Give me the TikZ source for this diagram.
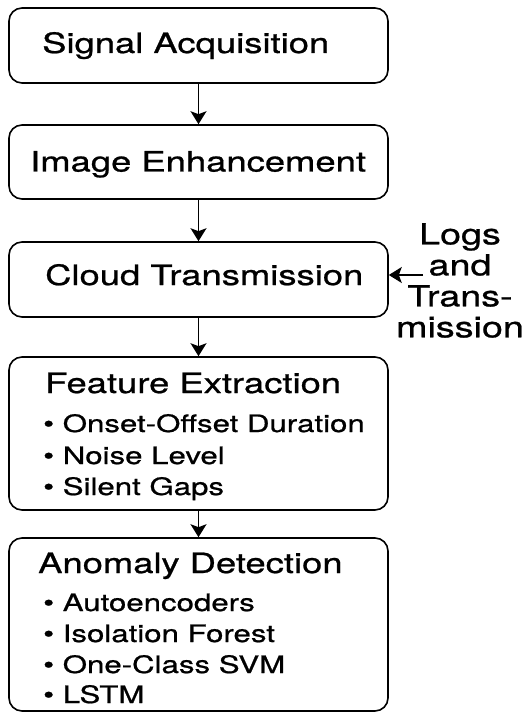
\documentclass[tikz,border=0pt]{standalone}
\usepackage{fontspec}
\setmainfont{TeX Gyre Heros}[FakeStretch=1.3,FakeBold=0.8]
\usetikzlibrary{arrows.meta}
\begin{document}
\begin{tikzpicture}[x=1pt,y=-1pt,
  box/.style={draw, line width=1.6pt, rounded corners=13pt, inner sep=0pt,
              minimum width=379pt},
  ttl/.style={anchor=base west, inner sep=0pt, font=\fontsize{28}{30}\selectfont},
  itm/.style={anchor=base west, inner sep=0pt, font=\fontsize{24}{28}\selectfont},
  side/.style={anchor=north, inner sep=0pt, align=center,
               font=\fontsize{29}{31}\selectfont},
  arr/.style={-{Stealth[length=13pt,width=16pt,inset=3pt]}, line width=1.5pt}]
\useasboundingbox (0,0) rectangle (524,714);

% pipeline stages
\node[box, minimum height=75pt]  (b1) at (198.5,45.5)  {};
\node[box, minimum height=74pt]  (b2) at (198.5,162)   {};
\node[box, minimum height=75pt]  (b3) at (198.5,279.5) {};
\node[box, minimum height=153pt] (b4) at (198.5,433.5) {};
\node[box, minimum height=173pt] (b5) at (198.5,624.5) {};

% stage titles
\node[ttl] (t1) at (42,53)    {Signal Acquisition};
\node[ttl] (t2) at (30,171.5) {Image Enhancement};
\node[ttl] (t3) at (45,285)   {Cloud Transmission};
\node[ttl] (t4) at (45,393)   {Feature Extraction};
\node[ttl] (t5) at (38,573)   {Anomaly Detection};

% feature list
\node[itm] (f1) at (43,432) {\textbullet\ Onset-Offset Duration};
\node[itm] (f2) at (43,464) {\textbullet\ Noise Level};
\node[itm] (f3) at (43,495) {\textbullet\ Silent Gaps};

% detector list
\node[itm] (a1) at (43,611) {\textbullet\ Autoencoders};
\node[itm] (a2) at (43,642) {\textbullet\ Isolation Forest};
\node[itm] (a3) at (43,673) {\textbullet\ One-Class SVM};
\node[itm] (a4) at (43,703) {\textbullet\ LSTM};

% side input
\node[side] (logs) at (460,223) {Logs\\and\\Trans-\\mission};
\coordinate (logtail) at (423,275);

% connectors
\draw[arr] (b1.south) -- (b2.north);
\draw[arr] (b2.south) -- (b3.north);
\draw[arr] (b3.south) -- (b4.north);
\draw[arr] (b4.south) -- (b5.north);
\draw[arr] (logtail) -- (logtail -| b3.east);
\end{tikzpicture}
\end{document}
